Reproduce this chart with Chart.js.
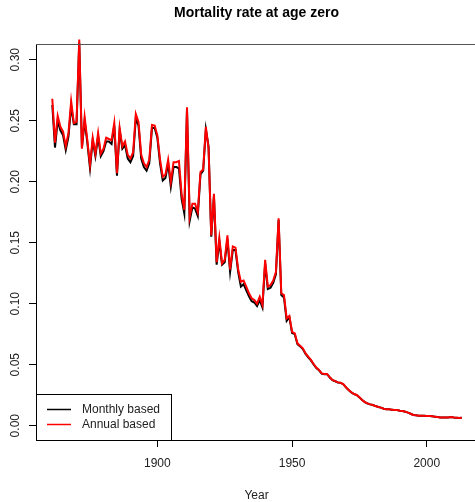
<!DOCTYPE html>
<html>
<head>
<meta charset="utf-8">
<script src="https://cdn.jsdelivr.net/npm/chart.js@4/dist/chart.umd.min.js"></script>
<style>
  html, body { margin: 0; padding: 0; background: #fff; }
  #wrap { width: 475px; height: 502px; }
</style>
</head>
<body>
<div id="wrap"><canvas id="chart" width="475" height="502"></canvas></div>
<script>
const FIRST_YEAR = 1861;

// monthly based estimate (black)
const monthlyBased = [
  0.263, 0.228, 0.250, 0.242, 0.238, 0.226, 0.237, 0.262, 0.247, 0.247,
  0.314, 0.228, 0.250, 0.232, 0.211, 0.234, 0.221, 0.237, 0.221, 0.225,
  0.233, 0.233, 0.231, 0.246, 0.205, 0.242, 0.227, 0.230, 0.219, 0.216,
  0.221, 0.252, 0.246, 0.219, 0.212, 0.209, 0.215, 0.244, 0.244, 0.236,
  0.215, 0.201, 0.203, 0.215, 0.196, 0.212, 0.212, 0.211, 0.186, 0.174,
  0.259, 0.168, 0.179, 0.178, 0.172, 0.206, 0.209, 0.243, 0.229, 0.155,
  0.188, 0.132, 0.151, 0.132, 0.134, 0.153, 0.126, 0.144, 0.144, 0.126,
  0.114, 0.116, 0.111, 0.106, 0.102, 0.101, 0.098, 0.103, 0.097, 0.133,
  0.112, 0.113, 0.117, 0.124, 0.1685, 0.107, 0.105, 0.086, 0.089, 0.076,
  0.075, 0.0668, 0.0650, 0.0628, 0.0588, 0.0561, 0.0535, 0.0502, 0.0473, 0.0454,
  0.0427, 0.0422, 0.0422, 0.0395, 0.0373, 0.0364, 0.0354, 0.0351, 0.0340, 0.0314,
  0.0292, 0.0273, 0.0259, 0.0251, 0.0232, 0.0210, 0.0193, 0.0182, 0.0175, 0.0170,
  0.0161, 0.0153, 0.0148, 0.0139, 0.0134, 0.0134, 0.0131, 0.0128, 0.0128, 0.0123,
  0.0120, 0.0115, 0.0107, 0.0098, 0.0088, 0.0085, 0.0082, 0.0082, 0.0082, 0.0079,
  0.0079, 0.0077, 0.0074, 0.0071, 0.0068, 0.0068, 0.0068, 0.0068, 0.0071, 0.0068,
  0.0066, 0.0063, 0.0066
];

// annual based estimate (red)
const annualBased = [
  0.268, 0.232, 0.254, 0.245, 0.241, 0.229, 0.240, 0.266, 0.248, 0.249,
  0.3165, 0.227, 0.253, 0.234, 0.214, 0.236, 0.223, 0.240, 0.223, 0.227,
  0.236, 0.235, 0.234, 0.248, 0.207, 0.244, 0.229, 0.233, 0.222, 0.219,
  0.224, 0.2555, 0.249, 0.222, 0.215, 0.212, 0.218, 0.2465, 0.246, 0.238,
  0.218, 0.204, 0.206, 0.218, 0.200, 0.216, 0.216, 0.217, 0.190, 0.177,
  0.261, 0.171, 0.182, 0.182, 0.175, 0.208, 0.210, 0.245, 0.227, 0.156,
  0.190, 0.134, 0.154, 0.133, 0.136, 0.156, 0.128, 0.147, 0.146, 0.128,
  0.118, 0.119, 0.114, 0.1085, 0.1044, 0.103, 0.100, 0.1057, 0.099, 0.136,
  0.114, 0.1153, 0.119, 0.126, 0.170, 0.1085, 0.107, 0.088, 0.090, 0.077,
  0.0757, 0.0675, 0.0656, 0.0634, 0.0593, 0.0566, 0.0539, 0.0506, 0.0476, 0.0457,
  0.0429, 0.0424, 0.0424, 0.0397, 0.0375, 0.0366, 0.0355, 0.0352, 0.0341, 0.0315,
  0.0293, 0.0274, 0.0260, 0.0252, 0.0233, 0.0211, 0.0194, 0.0183, 0.0175, 0.0170,
  0.0161, 0.0153, 0.0148, 0.0139, 0.0134, 0.0134, 0.0131, 0.0128, 0.0128, 0.0123,
  0.0120, 0.0115, 0.0107, 0.0098, 0.0088, 0.0085, 0.0082, 0.0082, 0.0082, 0.0079,
  0.0079, 0.0077, 0.0074, 0.0071, 0.0068, 0.0068, 0.0068, 0.0068, 0.0071, 0.0068,
  0.0066, 0.0063, 0.0066
];

const years = monthlyBased.map((_, i) => FIRST_YEAR + i);
const xTicks = [1900, 1950, 2000];
const yTicks = [0, 0.05, 0.10, 0.15, 0.20, 0.25, 0.30];
const seriesNames = ["Monthly based", "Annual based"];

const FONT = "'Liberation Sans', Arial, Helvetica, sans-serif";

// title, rotated y labels, top frame line and the legend box
const rBasePlot = {
  id: "rBasePlot",
  afterDraw(chart) {
    const { ctx, chartArea, scales } = chart;
    ctx.save();

    // frame top
    ctx.strokeStyle = "#555";
    ctx.lineWidth = 1;
    ctx.beginPath();
    ctx.moveTo(chartArea.left, chartArea.top + 0.5);
    ctx.lineTo(chartArea.right, chartArea.top + 0.5);
    ctx.stroke();

    // title
    ctx.fillStyle = "#000";
    ctx.font = "bold 14px " + FONT;
    ctx.textAlign = "center";
    ctx.textBaseline = "alphabetic";
    ctx.fillText("Mortality rate at age zero", (chartArea.left + chartArea.right) / 2 + 1, 17);

    // y tick labels, rotated like R's las=0
    ctx.font = "12px " + FONT;
    ctx.fillStyle = "#222";
    scales.y.ticks.forEach((t) => {
      const py = scales.y.getPixelForValue(t.value);
      ctx.save();
      ctx.translate(18.5, py);
      ctx.rotate(-Math.PI / 2);
      ctx.textAlign = "center";
      ctx.textBaseline = "alphabetic";
      ctx.fillText(t.value.toFixed(2), 0, 0);
      ctx.restore();
    });

    // x axis title
    ctx.textAlign = "center";
    ctx.fillText("Year", (chartArea.left + chartArea.right) / 2 + 1, 499);

    // legend
    const lx = chartArea.left, ly = 394, lw = 135, lh = chartArea.bottom - 394;
    ctx.fillStyle = "#fff";
    ctx.fillRect(lx, ly, lw, lh);
    ctx.strokeStyle = "#000";
    ctx.lineWidth = 1;
    ctx.strokeRect(lx + 0.5, ly + 0.5, lw, lh);
    chart.data.datasets.forEach((ds, i) => {
      const yy = 409.5 + i * 15;
      ctx.strokeStyle = ds.borderColor;
      ctx.lineWidth = 1.5;
      ctx.beginPath();
      ctx.moveTo(lx + 11, yy);
      ctx.lineTo(lx + 35, yy);
      ctx.stroke();
      ctx.fillStyle = "#222";
      ctx.textAlign = "left";
      ctx.textBaseline = "middle";
      ctx.fillText(ds.label, lx + 46, yy);
    });

    ctx.restore();
  }
};

new Chart(document.getElementById("chart"), {
  type: "line",
  data: {
    datasets: [
      {
        label: seriesNames[0],
        data: years.map((yr, i) => ({ x: yr, y: monthlyBased[i] })),
        borderColor: "#000000",
        borderWidth: 2,
        pointRadius: 0,
        tension: 0,
        clip: false,
        order: 2,
      },
      {
        label: seriesNames[1],
        data: years.map((yr, i) => ({ x: yr, y: annualBased[i] })),
        borderColor: "#ff0000",
        borderWidth: 2,
        pointRadius: 0,
        tension: 0,
        clip: false,
        order: 1,
      },
    ],
  },
  options: {
    responsive: false,
    animation: false,
    events: [],
    layout: { padding: { top: 44, left: 0, right: 0, bottom: 0 } },
    plugins: {
      legend: { display: false },
      title: { display: false },
      tooltip: { enabled: false },
    },
    scales: {
      x: {
        type: "linear",
        min: 1854.95,
        max: 2017.9,
        afterBuildTicks: (scale) => { scale.ticks = xTicks.map((v) => ({ value: v })); },
        afterFit: (scale) => { scale.height = 62; },
        grid: { drawOnChartArea: false, drawTicks: true, tickLength: 7, color: "#000" },
        border: { display: true, color: "#000", width: 1 },
        ticks: {
          color: "#222",
          font: { family: FONT, size: 12 },
          padding: 9,
          maxRotation: 0,
          callback: (v) => String(v),
        },
      },
      y: {
        type: "linear",
        min: -0.01172,
        max: 0.31287,
        afterBuildTicks: (scale) => { scale.ticks = yTicks.map((v) => ({ value: v })); },
        afterFit: (scale) => { scale.width = 36; },
        grid: { drawOnChartArea: false, drawTicks: true, tickLength: 7, color: "#000" },
        border: { display: true, color: "#000", width: 1 },
        ticks: { display: false },
      },
    },
  },
  plugins: [rBasePlot],
});
</script>
</body>
</html>
